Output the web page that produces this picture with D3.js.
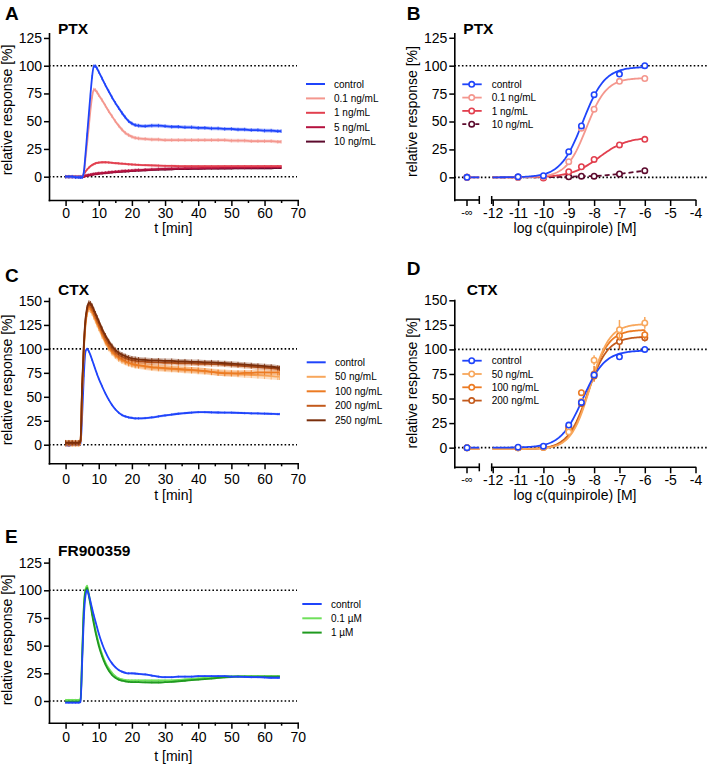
<!DOCTYPE html>
<html><head><meta charset="utf-8">
<script src="https://cdn.jsdelivr.net/npm/d3@7/dist/d3.min.js"></script>
<style>
body{margin:0;background:#fff;}
svg{display:block;}
</style></head><body>
<svg id="chart" width="709" height="768"></svg>
<script>
// ---------------- DATA ----------------
const minutesA  = [0,1,2,3,4,4.5,5,5.5,6,6.5,7,7.5,8,8.5,9,9.5,10,11,12,13,14,15,16,17,18,19,20,21,22,24,26,28,30,32,34,36,38,40,42,44,46,48,50,52,54,56,58,60,62,64,65];
const minutesCE = [0,1,2,3,4,4.5,5,5.5,6,6.5,7,7.5,8,8.5,9,9.5,10,11,12,13,14,15,16,17,18,19,20,21,22,24,26,28,30,32,34,36,38,40,42,44,46,48,50,52,54,56,58,60,62,64,64.5];
const timeTicks = [0,10,20,30,40,50,60,70];
const timeMinorTicks = [5,15,25,35,45,55,65];
const yTicks125 = [0,25,50,75,100,125];
const yTicks150 = [0,25,50,75,100,125,150];

// Panel A (PTX, kinetics)
const ptxLabels = ["control","0.1 ng/mL","1 ng/mL","5 ng/mL","10 ng/mL"];
const ptxControl = [0,0,0,-0.5,-0.5,-0.5,
  -0.5,4,20,38,56,74,90,99.5,99.5,97.5,94.5,
  88.5,82.5,77,71.5,66.5,62,57.5,53.5,50,48,46.5,46,
  45.5,46,46,45.5,45,45,44.5,44.5,44,44,43.5,43.5,43,43,42.5,42.5,42,42,41.5,41.5,41,41];
const ptx01 = [0,0,0,0,0,0,
  0,3,16,30,45,60,72,78.5,78,76,73.5,
  69,64,59,54.5,50,46,42.5,39.5,37.5,36,35,34.5,
  34,33.5,33.5,33,33,33,33,33,33,33,33,33,33,32.5,32.5,32.5,32,32,32,32,31.5,31.5];
const ptx1 = [0,0,0,0,0,0,
  0,2,4.5,6.5,8,9.5,10.5,11.3,12,12.4,12.7,
  13,13,12.8,12.5,12.2,12,11.7,11.5,11.2,11,10.8,10.6,
  10.4,10.2,10,9.8,9.7,9.6,9.5,9.5,9.4,9.4,9.4,9.4,9.5,9.5,9.5,9.5,9.5,9.5,9.5,9.5,9.5,9.5];
const ptx5 = [0,0,0,0,0,0,
  0,0.3,0.8,1.2,1.5,1.8,2.1,2.4,2.6,2.8,3,
  3.3,3.6,3.9,4.2,4.5,4.7,5,5.2,5.4,5.6,5.8,6,
  6.3,6.6,6.9,7.1,7.3,7.5,7.6,7.7,7.8,7.9,8,8.1,8.2,8.3,8.4,8.4,8.5,8.5,8.6,8.6,8.7,8.7];
const ptx10 = [0,0,0,0,0,0,
  0,0.2,0.5,0.9,1.2,1.5,1.8,2.1,2.3,2.5,2.7,
  3,3.3,3.6,3.9,4.1,4.3,4.5,4.7,4.9,5.1,5.3,5.5,
  5.8,6.1,6.3,6.5,6.7,6.8,6.9,7,7.1,7.2,7.3,7.3,7.4,7.4,7.5,7.5,7.5,7.6,7.6,7.6,7.7,7.7];
const ptxSem = [1.6,1.6,1.0,1.4,0.8];

// Panel C (CTX, kinetics)
const ctxLabels = ["control","50 ng/mL","100 ng/mL","200 ng/mL","250 ng/mL"];
const ctxControl = [-0.5,-1,0.5,0,0,0.5,
  30,72,97,100,97.5,93.5,88.5,83.5,78.5,73.5,69,
  61,53.5,47,41.5,37,33.5,31,29.5,28.5,28,27.5,27.5,
  27.8,28.5,29.5,30.5,31.5,32.3,33,33.5,34,34,33.8,33.6,33.5,33.4,33.2,33,32.8,32.6,32.4,32.2,32,32];
const ctx50 = [1.5,1.5,1.5,1.5,1.5,3,
  55,98,124,137,142,141,138,134,130,126,122,
  114,107,101,96.5,93,90,88,86.5,85,84,83,82.5,
  81.5,80.5,80,79.5,79,78.5,78,77.5,77,76.5,76,75.5,75,74.5,74,73.5,73,72.5,72,71.5,71,71];
const ctx100 = [1.5,1.5,1.5,1.5,1.5,3,
  58,100,127,139,144,143,140,136,132,128,124,
  116,108.5,102.5,97.5,94,91,89,87,85.5,84.5,83.5,83,
  82,81,80.5,80,79.5,79,78.5,78,77.5,77,76,75,74.5,74.5,74.5,75,75,75.5,75.5,75.5,75.5,75.5];
const ctx200 = [2,2,2,2,2,3.5,
  60,102,129,141,146,145,142,138,134,130,126,
  118,111,105,100,96.5,93.5,91.5,90,89,88,87.5,87,
  86.5,86,86,85.5,85.5,85,85,85,84.5,84.5,84,84,83.5,83,82.5,82,81.5,81,80.5,80,79.5,79.5];
const ctx250 = [2,2,2,2,2,4,
  62,104,131,143,148,147.5,145,141,137,133,129,
  121,114,108,103,99,96,94,92.5,91,90,89.5,89,
  88.5,88,88,87.5,87.5,87,87,86.5,86.5,86,86,85.5,85,84.5,84,83.5,83,82.5,82,81.5,80.5,80];
const ctxSem = [1.2,3.5,3,2.5,2.5];

// Panel E (FR900359, kinetics)
const frLabels = ["control","0.1 µM","1 µM"];
const frControl = [-1.5,-1.5,-1.5,-1.5,-1.5,-1,
  35,75,95,100,96,90,83.5,77.5,72,66.5,61,
  52,44.5,38.5,34,30.5,28,26.5,25.5,25,25,24.8,24.5,
  24,23,22,21.5,21.5,22,22,22,22.5,22.5,22.5,22.5,22.5,22,22,21.8,21.5,21.5,21.3,21,21,21];
const fr01 = [1,1,1,1,1,1.5,
  42,85,101,104,97,89,80,72,64.5,58,52,
  42.5,35,29.5,25.5,22.5,20.5,19.5,19,18.7,18.5,18.5,18.5,
  18.5,18.5,18.5,18.5,18.7,19,19.5,20,20.5,21,21.5,22,22.3,22.5,22.5,22.5,22.5,22.5,22.5,22.5,22.5,22.5];
const fr1 = [-0.5,-0.5,-0.5,-0.5,-0.5,0,
  40,83,99,102,95,87,78,70,62.5,56,50,
  40.5,33,27.5,23.5,21,19.3,18.3,17.7,17.3,17,17,17,
  16.8,16.7,16.7,17,17.3,17.8,18.3,18.8,19.3,19.8,20.3,20.8,21.3,21.7,22,22,22,22,22,22,22,22];
const frSem = [0.9,0.9,0.7];

// Concentration–response (log c quinpirole), -Infinity = vehicle
const logConc = [-Infinity,-11,-10,-9,-8.5,-8,-7,-6];
const logTicks = [-12,-11,-10,-9,-8,-7,-6,-5,-4];

// Panel B (PTX)
const crPtxLabels = ["control","0.1 ng/mL","1 ng/mL","10 ng/mL"];
const crPtxControl = [0,0.5,1.5,23,46,74,92.5,100];
const crPtx01     = [0,0,0.5,14,44,61,86,88.5];
const crPtx1      = [0,0,-0.5,5,9.5,16,29,34];
const crPtx10     = [0,0,0,0.5,1,1,3,6];
const crPtxErrControl = [0.3,0.5,0.5,1.2,1.5,2,2,0.5];
const crPtxErr01      = [0.3,0.3,0.5,1.5,2,2.5,1.5,1.5];
const crPtxErr1       = [0.3,0.3,0.5,1,1,1.5,2,2];
const crPtxErr10      = [0.3,0.3,0.3,0.5,0.5,0.5,1,1];
// fitted curve parameters: [bottom, top, logEC50, hill] (null = no fit)
const fitPtxControl = [0,99,-8.45,1.0];
const fitPtx01      = [0,89,-8.3,1.1];
const fitPtx1       = [0,36,-7.8,0.8];

// Panel D (CTX)
const crCtxLabels = ["control","50 ng/mL","100 ng/mL","200 ng/mL"];
const crCtxControl = [0,0.5,1.5,23,46,74,92.5,100];
const crCtx50      = [0,0,0.5,16,47,89,120,127];
const crCtx100     = [0,0,0.5,19,56,75,114,115];
const crCtx200     = [0,0,0.5,21,45,73,108,112];
const crCtxErrControl = [0.3,0.5,0.5,1.2,1.5,2,2,0.5];
const crCtxErr50      = [0.3,0.3,0.5,1.5,2,5,10,6];
const crCtxErr100     = [0.3,0.3,0.5,1,3,8,5,5];
const crCtxErr200     = [0.3,0.3,0.5,1,2,3,8,4];
const fitCtxControl = [0,99,-8.45,1.0];
const fitCtx50      = [-1.5,126,-8.15,1.15];
const fitCtx100     = [-1.5,120,-8.2,1.15];
const fitCtx200     = [-1.5,113,-8.25,1.1];

// ---------------- STYLE ----------------
const FONT = '"Liberation Sans", Arial, Helvetica, sans-serif';
const BLUE = "#1f44fb";
const ptxColors = [BLUE,"#f4978e","#e2404f","#b5123f","#5c0a2d"];
const ctxColors = [BLUE,"#f8a75c","#ec7b23","#c35a1c","#7a2e0b"];
const frColors  = [BLUE,"#6fe05b","#1f9a1f"];

const svg = d3.select("#chart");

function styleAxis(g, fs) {
  g.selectAll("path.domain").attr("stroke","#000").attr("stroke-width",1.6).attr("stroke-linecap","square");
  g.selectAll(".tick line").attr("stroke","#000").attr("stroke-width",1.5);
  g.selectAll("text").attr("font-family",FONT).attr("font-size",fs||14).attr("fill","#000");
  g.attr("font-family",FONT);
}

function text(x,y,str,opt) {
  opt = opt||{};
  const t = svg.append("text").attr("x",x).attr("y",y).text(str)
    .attr("font-family",FONT).attr("font-size",opt.size||14).attr("fill","#000");
  if (opt.bold) t.attr("font-weight","bold");
  if (opt.anchor) t.attr("text-anchor",opt.anchor);
  if (opt.rotate) t.attr("transform",`rotate(-90,${x},${y})`);
  return t;
}

function refLines(x1, x2, y) {
  [0,100].forEach(v => {
    svg.append("line").attr("x1",x1).attr("x2",x2).attr("y1",y(v)).attr("y2",y(v))
      .attr("stroke","#000").attr("stroke-width",1.6).attr("stroke-dasharray","1.6,2.2");
  });
}

// ---------- kinetic panel ----------
function timePanel(o) {
  const x = d3.scaleLinear().domain([-5,70]).range([49,297.7]);
  const y = d3.scaleLinear().domain(o.yDomain).range(o.yRange);
  refLines(49, 297, y);
  const line = d3.line().x(d => x(d[0])).y(d => y(d[1])).curve(d3.curveMonotoneX);
  const area = d3.area().x(d => x(d[0])).y0(d => y(d[1]-d[2])).y1(d => y(d[1]+d[2])).curve(d3.curveMonotoneX);
  o.order.forEach(i => {
    const pts = o.time.map((t,k) => [t, o.series[i][k], o.sem[i]]);
    const g = svg.append("g");
    g.append("path").attr("d", area(pts)).attr("fill", o.colors[i]).attr("opacity",0.35);
    g.selectAll("line").data(pts).join("line")
      .attr("x1",d=>x(d[0])).attr("x2",d=>x(d[0]))
      .attr("y1",d=>y(d[1]-d[2])).attr("y2",d=>y(d[1]+d[2]))
      .attr("stroke",o.colors[i]).attr("stroke-width",0.8);
    g.append("path").attr("d", line(pts)).attr("fill","none")
      .attr("stroke", o.colors[i]).attr("stroke-width",1.8).attr("stroke-linejoin","round");
  });
  // axes
  const ya = svg.append("g").attr("transform","translate(49,0)")
    .call(d3.axisLeft(y).tickValues(o.yTicks).tickSize(5).tickSizeOuter(0).tickPadding(2));
  styleAxis(ya);
  const xAxisY = o.yRange[0];
  const xa = svg.append("g").attr("transform",`translate(0,${xAxisY})`)
    .call(d3.axisBottom(x).tickValues(timeTicks).tickSize(6).tickSizeOuter(0).tickPadding(o.tickPad));
  styleAxis(xa);
  const xm = svg.append("g").attr("transform",`translate(0,${xAxisY})`)
    .call(d3.axisBottom(x).tickValues(timeMinorTicks).tickSize(3).tickSizeOuter(0).tickFormat(""));
  styleAxis(xm);
  xm.select("path.domain").remove();
  text(173.3, o.xLabelY, "t [min]", {anchor:"middle"});
  text(11.5, o.yLabelMid, "relative response [%]", {anchor:"middle", rotate:true});
  text(5, o.letterY, o.letter, {bold:true, size:19});
  text(58, o.titleY, o.title, {bold:true, size:15.5});
  // legend
  o.labels.forEach((lab,i) => {
    const ly = o.leg.y0 + i*o.leg.dy;
    svg.append("line").attr("x1",o.leg.x1).attr("x2",o.leg.x2).attr("y1",ly).attr("y2",ly)
      .attr("stroke",o.colors[i]).attr("stroke-width",2);
    text(o.leg.tx, ly+3.6, lab, {size:10});
  });
}

timePanel({
  time: minutesA, series:[ptxControl,ptx01,ptx1,ptx5,ptx10], sem: ptxSem, colors: ptxColors,
  labels: ptxLabels, order:[4,3,2,1,0],
  yDomain:[-21,129.2], yRange:[200,33.3], yTicks:yTicks125, tickPad:2,
  xLabelY:233, yLabelMid:110, letter:"A", letterY:20, title:"PTX", titleY:34,
  leg:{x1:306,x2:325,tx:334,y0:84,dy:14.4}
});
timePanel({
  time: minutesCE, series:[ctxControl,ctx50,ctx100,ctx200,ctx250], sem: ctxSem, colors: ctxColors,
  labels: ctxLabels, order:[0,1,2,3,4],
  yDomain:[-19.4,153.1], yRange:[463.3,298], yTicks:yTicks150, tickPad:5,
  xLabelY:499.5, yLabelMid:380, letter:"C", letterY:282, title:"CTX", titleY:295,
  leg:{x1:306.7,x2:325.7,tx:335,y0:362.3,dy:14.5}
});
timePanel({
  time: minutesCE, series:[frControl,fr01,fr1], sem: frSem, colors: frColors,
  labels: frLabels, order:[1,2,0],
  yDomain:[-19.6,128.9], yRange:[722.7,558.3], yTicks:yTicks125, tickPad:3.2,
  xLabelY:760.5, yLabelMid:640, letter:"E", letterY:543, title:"FR900359", titleY:556,
  leg:{x1:302.3,x2:321.7,tx:331,y0:604,dy:14.3}
});

// ---------- concentration-response panel ----------
function dosePanel(o) {
  const AX = 454.3, INF_X = 467, SEG1_END = 479.3, SEG2_START = 491.7;
  const xl = d3.scaleLinear().domain([-12,-4]).range([492.7,695.5]);
  const xd = c => c === -Infinity ? INF_X : xl(c);
  const y = d3.scaleLinear().domain(o.yDomain).range(o.yRange);
  const axY = o.yRange[0];
  refLines(AX, 708, y);
  const logistic = (p, c) => p[0] + (p[1]-p[0]) / (1 + Math.pow(10, (p[2]-c)*p[3]));
  const grid = d3.range(-12, -5.999, 0.05);
  const line = d3.line().x(d => d[0]).y(d => d[1]).curve(d3.curveLinear);
  // curves
  o.order.forEach(i => {
    const p = o.fits[i];
    if (p) {
      svg.append("path").attr("d", line(grid.map(c => [xl(c), y(logistic(p,c))])))
        .attr("fill","none").attr("stroke",o.colors[i]).attr("stroke-width",1.8);
      svg.append("line").attr("x1",INF_X).attr("x2",SEG1_END).attr("y1",y(p[0])).attr("y2",y(p[0]))
        .attr("stroke",o.colors[i]).attr("stroke-width",1.8);
    } else {
      const pts = logConc.slice(1).map((c,k) => [xl(c), y(o.series[i][k+1])]);
      pts.unshift([xl(-12), y(o.series[i][1])]);
      svg.append("path").attr("d", line(pts)).attr("fill","none")
        .attr("stroke",o.colors[i]).attr("stroke-width",1.8).attr("stroke-dasharray","5,3");
    }
  });
  // error bars + points
  o.order.forEach(i => {
    const g = svg.append("g");
    logConc.forEach((c,k) => {
      const v = o.series[i][k], e = o.errs[i][k];
      g.append("line").attr("x1",xd(c)).attr("x2",xd(c)).attr("y1",y(v-e)).attr("y2",y(v+e))
        .attr("stroke",o.colors[i]).attr("stroke-width",1.5);
    });
    g.selectAll("circle").data(logConc).join("circle")
      .attr("cx",(c)=>xd(c)).attr("cy",(c,k)=>y(o.series[i][k])).attr("r",2.7)
      .attr("fill","#fff").attr("stroke",o.colors[i]).attr("stroke-width",1.6);
  });
  // y axis
  const ya = svg.append("g").attr("transform",`translate(${AX},0)`)
    .call(d3.axisLeft(y).tickValues(o.yTicks).tickSize(5).tickSizeOuter(0).tickPadding(2));
  styleAxis(ya);
  // x axis (broken)
  const xa = svg.append("g").attr("transform",`translate(0,${axY})`)
    .call(d3.axisBottom(xl).tickValues(logTicks).tickSize(6).tickSizeOuter(0).tickPadding(o.tickPad)
      .tickFormat(d => String(d).replace("\u2212","-")));
  styleAxis(xa);
  xa.select("path.domain").attr("d", `M${SEG2_START},0H${xl(-4)}`);
  svg.append("line").attr("x1",AX).attr("x2",SEG1_END).attr("y1",axY).attr("y2",axY)
    .attr("stroke","#000").attr("stroke-width",1.6);
  [SEG1_END, SEG2_START].forEach(bx => svg.append("line").attr("x1",bx).attr("x2",bx)
    .attr("y1",axY-4).attr("y2",axY+4).attr("stroke","#000").attr("stroke-width",1.5));
  svg.append("line").attr("x1",INF_X).attr("x2",INF_X).attr("y1",axY).attr("y2",axY+6)
    .attr("stroke","#000").attr("stroke-width",1.5);
  text(INF_X, axY + 16 + o.tickPad - 2, "-\u221E", {anchor:"middle", size:11});
  text(575, o.xLabelY, "log c(quinpirole) [M]", {anchor:"middle"});
  text(417, o.yLabelMid, "relative response [%]", {anchor:"middle", rotate:true});
  text(406.7, o.letterY, o.letter, {bold:true, size:19});
  text(o.titleX, o.titleY, o.title, {bold:true, size:15.5});
  // legend
  o.labels.forEach((lab,i) => {
    const ly = o.leg.y0 + i*o.leg.dy;
    const l = svg.append("line").attr("x1",462.3).attr("x2",481.7).attr("y1",ly).attr("y2",ly)
      .attr("stroke",o.colors[i]).attr("stroke-width",1.8);
    if (!o.fits[i]) l.attr("stroke-dasharray","4,2.5");
    svg.append("circle").attr("cx",471.7).attr("cy",ly).attr("r",2.7)
      .attr("fill","#fff").attr("stroke",o.colors[i]).attr("stroke-width",1.6);
    text(491.7, ly+3.6, lab, {size:10});
  });
}

dosePanel({
  series:[crPtxControl,crPtx01,crPtx1,crPtx10], errs:[crPtxErrControl,crPtxErr01,crPtxErr1,crPtxErr10],
  fits:[fitPtxControl,fitPtx01,fitPtx1,null],
  colors:[BLUE,"#f4978e","#e2404f","#5c0a2d"], labels:crPtxLabels, order:[3,2,1,0],
  yDomain:[-20.3,129], yRange:[200,33.3], yTicks:yTicks125, tickPad:2,
  xLabelY:233, yLabelMid:111.5, letter:"B", letterY:20, title:"PTX", titleX:463.3, titleY:34,
  leg:{y0:84.3, dy:13.3}
});
dosePanel({
  series:[crCtxControl,crCtx50,crCtx100,crCtx200], errs:[crCtxErrControl,crCtxErr50,crCtxErr100,crCtxErr200],
  fits:[fitCtxControl,fitCtx50,fitCtx100,fitCtx200],
  colors:[BLUE,"#f8a75c","#ec7b23","#c35a1c"], labels:crCtxLabels, order:[3,2,1,0],
  yDomain:[-20,150.3], yRange:[467.3,300], yTicks:yTicks150, tickPad:1.3,
  xLabelY:500, yLabelMid:383, letter:"D", letterY:275, title:"CTX", titleX:466.7, titleY:295,
  leg:{y0:360.7, dy:13.3}
});
</script>
</body></html>
